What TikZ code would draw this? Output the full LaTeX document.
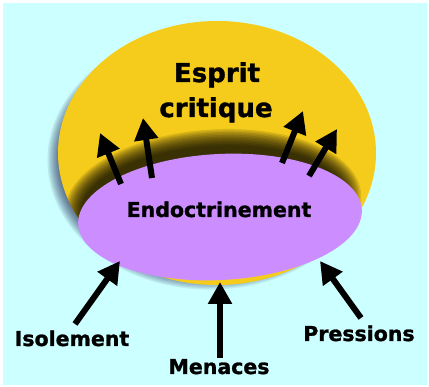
\documentclass[tikz,border=0pt]{standalone}
\usepackage{fontspec}
\setmainfont[BoldFeatures={FakeBold=1.3}]{DejaVu Sans}
\usetikzlibrary{arrows.meta,positioning,shapes.geometric}
\definecolor{skycyan}{HTML}{CCFFFF}
\definecolor{espritgold}{HTML}{F6CC1C}
\definecolor{endolilac}{HTML}{CC8EFF}

\tikzset{
  blob/.style={ellipse, inner sep=0pt},
  bigtxt/.style={font=\fontsize{26}{30}\selectfont\bfseries, anchor=base},
  midtxt/.style={font=\fontsize{20.5}{24}\selectfont\bfseries, anchor=base},
  push/.style={line width=6pt, -{Triangle[length=22pt,width=23pt]}},
}

\begin{document}
\begin{tikzpicture}[x=1pt,y=-1pt]
  %% Background with thin white frame
  \fill[white] (0,0) rectangle (429,387);
  \fill[skycyan] (3,3) rectangle (427,385);
  \useasboundingbox (0,0) rectangle (429,387);

  %% Soft shadow of the big ellipse
  \foreach \k in {1,...,10} {
    \fill[black!80!blue, opacity=0.08] (210,160)
      ellipse ({164-1.4*\k} and {131-1.4*\k});
  }
  \node[blob, fill=espritgold, minimum width=318pt, minimum height=264pt]
    (critbox) at (217,153) {};

  %% Shadow cast by the small ellipse, kept on the yellow
  \begin{scope}
    \clip (217,153) ellipse (159 and 132);
    \foreach \k in {1,...,12} {
      \fill[black, opacity=0.11, rotate around={4:(213,204)}] (213,204)
        ellipse ({150-1.5*\k} and {76-1.5*\k});
    }
  \end{scope}
  \node[blob, fill=endolilac, minimum width=284pt, minimum height=126pt,
        rotate=3] (endobox) at (220,217) {};

  %% Texts
  \node[bigtxt] (esprit) at (217,82) {Esprit};
  \node[bigtxt] (critique) at (216,117) {critique};
  \node[midtxt] (endo) at (219,217) {Endoctrinement};
  \node[midtxt] (isol) at (72,346) {Isolement};
  \node[midtxt] (menace) at (219,374) {Menaces};
  \node[midtxt] (press) at (359,341) {Pressions};

  %% Arrow ends
  \coordinate (u1a) at (121,184); \coordinate (u1b) at (100,133);
  \coordinate (u2a) at (152,178); \coordinate (u2b) at (143,118);
  \coordinate (u3a) at (282,163); \coordinate (u3b) at (303,111);
  \coordinate (u4a) at (309,176); \coordinate (u4b) at (337,129);
  \coordinate (isoA) at (75,324);  \coordinate (isoB) at (120,261);
  \coordinate (menA) at (220,358); \coordinate (menB) at (220,282);
  \coordinate (preA) at (361,318); \coordinate (preB) at (320,261);

  %% Arrows from the indoctrination towards critical thinking
  \foreach \s/\t in {u1a/u1b, u2a/u2b, u3a/u3b, u4a/u4b} {
    \draw[push] (\s) -- (\t);
  }

  %% Pressures from below
  \draw[push] (isoA) -- (isoB);
  \draw[push] (menA) -- (menB);
  \draw[push] (preA) -- (preB);
\end{tikzpicture}
\end{document}
